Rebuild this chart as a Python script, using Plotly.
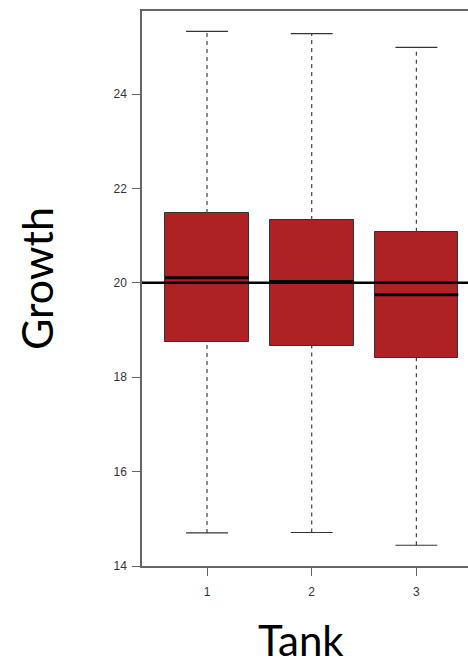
import plotly.graph_objects as go

# Growth summary per tank (five-number summaries)
tanks = [1, 2, 3]
lower_whisker = [14.70, 14.71, 14.44]
q1 = [18.74, 18.66, 18.41]
median = [20.11, 20.03, 19.75]
q3 = [21.48, 21.33, 21.08]
upper_whisker = [25.33, 25.28, 24.99]
reference_level = 20

y_ticks = [14, 16, 18, 20, 22, 24]

BOX_W = 0.8
CAP_W = 0.4
FILL = "#ae2224"
AXIS_COL = "#666666"

fig = go.Figure()

# Boxes (Q1 to Q3)
fig.add_trace(go.Bar(
    x=tanks, y=[b - a for a, b in zip(q1, q3)], base=q1, width=BOX_W,
    marker=dict(color=FILL, line=dict(color="#333333", width=1)),
    hoverinfo="skip", showlegend=False,
))

# Dashed whiskers
wx, wy = [], []
for t, lo, a, b, hi in zip(tanks, lower_whisker, q1, q3, upper_whisker):
    wx += [t, t, None, t, t, None]
    wy += [b, hi, None, lo, a, None]
fig.add_trace(go.Scatter(
    x=wx, y=wy, mode="lines",
    line=dict(color="#444444", width=1.2, dash="4px,4px"),
    hoverinfo="skip", showlegend=False,
))

# Whisker caps
cx, cy = [], []
for t, lo, hi in zip(tanks, lower_whisker, upper_whisker):
    cx += [t - CAP_W / 2, t + CAP_W / 2, None, t - CAP_W / 2, t + CAP_W / 2, None]
    cy += [hi, hi, None, lo, lo, None]
fig.add_trace(go.Scatter(
    x=cx, y=cy, mode="lines",
    line=dict(color="#333333", width=1.2),
    hoverinfo="skip", showlegend=False,
))

# Medians
mx, my = [], []
for t, m in zip(tanks, median):
    mx += [t - BOX_W / 2, t + BOX_W / 2, None]
    my += [m, m, None]
fig.add_trace(go.Scatter(
    x=mx, y=my, mode="lines",
    line=dict(color="#000000", width=3),
    hoverinfo="skip", showlegend=False,
))

# Reference level across the panel
fig.add_shape(type="line", xref="paper", x0=0, x1=1, yref="y",
              y0=reference_level, y1=reference_level,
              line=dict(color="#000000", width=2.5), layer="above")

fig.update_layout(
    width=468, height=665,
    margin=dict(l=142, r=0, t=11, b=99),
    paper_bgcolor="white", plot_bgcolor="white",
    font=dict(family="Liberation Sans, Arial, sans-serif", size=12, color="#333333"),
    bargap=0,
)

fig.update_xaxes(
    range=[0.379, 3.493], tickvals=tanks, ticktext=[str(t) for t in tanks],
    showgrid=False, zeroline=False,
    showline=True, linecolor=AXIS_COL, linewidth=1.5, mirror=True,
    ticks="outside", ticklen=8, tickcolor=AXIS_COL, tickwidth=1,
    ticklabelstandoff=6, tickfont=dict(size=12, color="#333333"),
)
fig.update_yaxes(
    range=[14, 25.76], tickvals=y_ticks, ticktext=[str(v) for v in y_ticks],
    showgrid=False, zeroline=False,
    showline=True, linecolor=AXIS_COL, linewidth=1.5,
    ticks="outside", ticklen=8, tickcolor=AXIS_COL, tickwidth=1,
    ticklabelstandoff=3, tickfont=dict(size=12, color="#333333"),
)

# Axis titles
fig.add_annotation(text="Growth", xref="paper", yref="paper",
                   x=-0.325, y=0.517, textangle=-90, showarrow=False,
                   xanchor="center", yanchor="middle",
                   font=dict(family="Lato, sans-serif", size=43, color="#000000"))
fig.add_annotation(text="Tank", xref="paper", yref="paper",
                   x=0.488, y=-0.1333, showarrow=False, borderpad=0,
                   xanchor="center", yanchor="middle",
                   font=dict(family="Lato, sans-serif", size=42, color="#000000"))

fig.write_html("out.html")
